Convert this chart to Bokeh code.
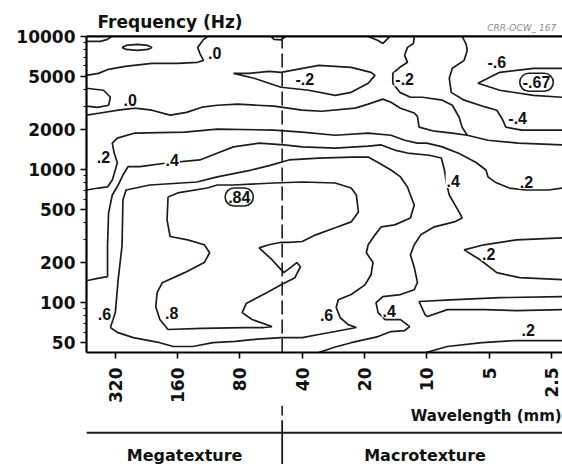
import math
from bokeh.plotting import figure
from bokeh.models import Range1d, FixedTicker, Span, ColumnDataSource
from bokeh.layouts import column
from bokeh.embed import file_html
from bokeh.resources import INLINE
from bokeh.core.properties import value

# ---------------- data (wavelength in mm, frequency in Hz) ----------------
wl_ticks = [320, 160, 80, 40, 20, 10, 5, 2.5]
wl_tick_labels = ["320", "160", "80", "40", "20", "10", "5", "2.5"]
freq_ticks = [50, 100, 200, 500, 1000, 2000, 5000, 10000]
freq_tick_labels = ["50", "100", "200", "500", "1000", "2000", "5000", "10000"]
freq_minor = [60, 70, 80, 90, 300, 400, 600, 700, 800, 900, 3000, 4000, 6000, 7000, 8000, 9000]
divider_mm = 50
freq_floor = 42.2
wl_left, wl_right = 441, 2.21

# contour lines, (wavelength mm, frequency Hz)
zero_corner = [(441, 9170), (378, 9170), (349, 9500), (338, 9830), (334, 10000)]
zero_islet = [(297, 8270), (284, 8560), (251, 8710), (223, 8560), (213, 8270), (223, 7990),
              (251, 7850), (284, 7990), (297, 8270)]
zero_upper = [(441, 5100), (386, 5280), (345, 5660), (287, 5960), (213, 6280), (160, 6280),
              (128, 6390), (120, 6610), (125, 7460), (128, 8270), (121, 9330), (116, 9830), (115, 10000)]
zero_edge_bump = [(441, 4080), (365, 3940), (338, 3490), (345, 3040), (390, 2930), (441, 2990)]
zero_lower = [(441, 2560), (378, 2660), (310, 2790), (257, 2890), (213, 2790), (174, 2560), (145, 2690),
              (122, 2940), (103, 3040), (82, 3100), (66, 3040), (54.8, 2990), (40, 2790), (32.2, 2740),
              (22.2, 2890), (19.2, 3100), (16.3, 3380), (14.9, 3200), (13.4, 2890), (11.5, 2660),
              (11.1, 2510), (10.9, 2080), (9.19, 1940), (7.53, 1880), (6.38, 1810)]
neg02_west = [(86, 5280), (72.2, 5280), (57.9, 5460), (50.6, 5370), (33.3, 6060), (23.2, 5860),
              (18.6, 5370), (17.8, 5100), (19.2, 4450), (23.2, 3800), (27.7, 3610), (37.2, 3940),
              (50.6, 4150), (57.9, 4450), (68.3, 4850), (86, 5280)]
neg02_east = [(11.5, 10000), (11.6, 8860), (12.4, 8270), (12.8, 7210), (12.4, 6390), (13.5, 5860),
              (14.6, 5280), (14.6, 4450), (13.5, 3800), (12.0, 3490), (10.5, 3490), (8.41, 3320),
              (7.53, 3040), (6.98, 2470), (6.75, 2080), (6.38, 1810), (5.06, 1660), (3.61, 1580), (2.21, 1530)]
neg04_east = [(6.75, 10000), (6.45, 8700), (6.38, 7850), (6.60, 6610), (7.53, 5760), (7.79, 4850),
              (7.62, 3800), (6.60, 3320), (5.18, 2940), (4.59, 2790), (4.34, 2430), (4.15, 2080),
              (3.48, 1980), (2.21, 1980)]
neg06_east = [(2.21, 5760), (3.05, 5760), (4.44, 5370), (5.66, 4450), (4.44, 3940), (3.05, 3610), (2.21, 3490)]
pos02_main = [(441, 702), (386, 726), (349, 740), (331, 834), (320, 991), (313, 1130), (324, 1330),
              (331, 1580), (313, 1720), (257, 1880), (148, 1910), (103, 2010), (54.8, 1980), (40, 1910),
              (27.7, 1810), (19.2, 1880), (14.9, 1810), (12.8, 1660), (11.1, 1580), (10.0, 1580),
              (8.41, 1480), (6.98, 1320), (5.78, 1130), (5.18, 991), (5.06, 880), (4.64, 798),
              (4.0, 726), (3.33, 702), (2.58, 702), (2.21, 726)]
pos02_wedge = [(2.21, 307), (3.68, 296), (5.29, 272), (6.60, 249), (5.53, 210), (4.59, 168),
               (3.56, 154), (2.21, 149)]
pos02_narrow = [(2.21, 111), (4.44, 109), (7.70, 105), (10.9, 102), (10.2, 81.3), (9.93, 78.6),
                (7.96, 88.6), (5.29, 88.6), (3.68, 87.2), (2.21, 88.6)]
pos02_bottom = [(10.1, 42.2), (7.96, 46.8), (5.41, 50), (3.76, 51.9), (2.21, 51.9)]
pos04_main = [(441, 146), (390, 152), (349, 157), (349, 267), (345, 471), (331, 644), (310, 765),
              (294, 909), (278, 1050), (243, 1050), (181, 1120), (125, 1180), (104, 1320), (86, 1480),
              (64.6, 1580), (49.1, 1530), (40, 1480), (27.7, 1450), (19.2, 1500), (16.6, 1530),
              (14.3, 1400), (12.4, 1330), (9.72, 1280), (8.51, 1220), (8.22, 991), (8.05, 798),
              (7.79, 644), (6.98, 479), (6.75, 433), (7.37, 404), (9.19, 371), (10.7, 323), (11.5, 272),
              (12.0, 229), (11.5, 184), (11.1, 142), (11.5, 125), (13.4, 115), (16.3, 111), (17.6, 100),
              (17.2, 84.2), (15.9, 74.6), (13.4, 74.6), (12.1, 66.1), (12.8, 61.7), (14.9, 60.6),
              (17.2, 55.6), (23.2, 50), (27.7, 46.4), (33.3, 42.2), (35.2, 40.2)]
pos06_loop = [(338, 65.0), (320, 84.2), (310, 149), (297, 267), (294, 591), (284, 702), (218, 765),
              (129, 806), (103, 880), (70.6, 991), (56.6, 1080), (46.4, 1180), (33.3, 1220), (23.2, 1240),
              (19.2, 1240), (17.2, 1130), (14.9, 991), (13.4, 880), (12.4, 740), (12.0, 644), (11.5, 542),
              (12.0, 433), (14.3, 384), (16.6, 371), (17.8, 323), (19.2, 272), (19.6, 237), (18.2, 200),
              (18.6, 162), (19.9, 136), (23.2, 115), (26.8, 105), (27.4, 91.8), (26.2, 77.0), (24.0, 68.4),
              (21.9, 65.0), (27.7, 60.7), (33.3, 57.6), (40, 54.6), (50.6, 54.6), (69.9, 52.8),
              (84.2, 51.1), (108, 50), (135, 46.8), (168, 46.8), (195, 50), (262, 54.6), (313, 59.8), (338, 65.0)]
pos08_loop = [(178, 622), (160, 667), (115, 726), (103, 765), (86, 765), (54.8, 792), (40, 806),
              (27.7, 792), (23.2, 726), (21.9, 644), (21.4, 479), (23.2, 404), (27.7, 365), (34.4, 323),
              (40, 288), (46.4, 284), (50.6, 284), (57.9, 272), (64.6, 258), (56.0, 210), (51.8, 184),
              (49.1, 168), (45.4, 184), (42.5, 200), (40.8, 186), (43.4, 154), (50.6, 136), (57.9, 121),
              (66.1, 109), (74.6, 98.3), (78.0, 84.2), (69.9, 74.6), (56.0, 66.1), (61.2, 65.0),
              (76.3, 65.0), (122, 64.0), (178, 62.8), (195, 74.6), (204, 93.3), (201, 119), (190, 141),
              (148, 168), (119, 200), (112, 237), (119, 272), (143, 296), (174, 314), (180, 418), (178, 622)]
top_notch_a = [(56.6, 10000), (54.8, 9500), (50.6, 9420), (48.0, 10000)]
top_notch_b = [(19.2, 10000), (17.2, 9330), (16.3, 8860), (15.4, 9660), (15.1, 10000)]

label_text = [".0", ".0", "-.2", "-.2", "-.6", "-.4", ".2", ".4", ".4", ".2", ".2", ".6", ".8", ".6", ".4", ".2"]
label_wl = [106, 271, 38.9, 12.8, 4.59, 3.64, 365, 170, 7.45, 3.30, 5.02, 361, 171, 30.5, 15.2, 3.24]
label_hz = [7460, 3320, 4760, 4760, 6390, 2430, 1240, 1180, 820, 806, 233, 82.7, 84.2, 81.3, 87.2, 62.8]

peak_text = [".84", "-.67"]
peak_wl = [80.6, 2.95]
peak_hz = [622, 4520]

contour_lines = [zero_corner, zero_islet, zero_upper, zero_edge_bump, zero_lower, neg02_west,
                 neg02_east, neg04_east, neg06_east, pos02_main, pos02_wedge, pos02_narrow,
                 pos02_bottom, pos04_main, pos06_loop, pos08_loop, top_notch_a, top_notch_b]

# ---------------- main figure ----------------
INK = "#1c1c1c"
AXIS_FONT = "DejaVu Sans"
LBL_FONT = "Liberation Sans"

p = figure(width=562, height=405, x_axis_type="log", y_axis_type="log",
           x_range=Range1d(wl_left, wl_right), y_range=Range1d(freq_floor, 16210),
           output_backend="svg", toolbar_location=None, title=None,
           min_border_left=86, min_border_right=0, min_border_top=8, min_border_bottom=52)
p.outline_line_color = None
p.grid.visible = False
p.background_fill_color = "white"
p.border_fill_color = "white"

xs = [[pt[0] for pt in ln] for ln in contour_lines]
ys = [[pt[1] for pt in ln] for ln in contour_lines]
p.multi_line(xs, ys, line_color=INK, line_width=1.7)

# Megatexture / Macrotexture boundary and the top frame line
p.segment(x0=[divider_mm], y0=[freq_floor], x1=[divider_mm], y1=[freq_ticks[-1]],
          line_dash="14 5", line_width=1.6, line_color=INK)
p.segment(x0=[wl_left], y0=[freq_ticks[-1]], x1=[wl_right], y1=[freq_ticks[-1]],
          line_width=2.2, line_color="black")

lbl_src = ColumnDataSource(dict(x=label_wl, y=label_hz, t=label_text))
p.text(x="x", y="y", text="t", source=lbl_src, text_font=value(LBL_FONT), text_font_size="16px",
       text_font_style="bold", text_align="center", text_baseline="middle", text_color="#111111",
       background_fill_color="white", padding=1)

peak_src = ColumnDataSource(dict(x=peak_wl, y=peak_hz, t=peak_text))
p.text(x="x", y="y", text="t", source=peak_src, text_font=value(LBL_FONT), text_font_size="16px",
       text_font_style="bold", text_align="center", text_baseline="middle", text_color="#111111",
       background_fill_color="white", border_line_color=INK, border_line_width=1.6,
       border_radius=10, padding=3)

# titles above the plot box
p.text(x=[390], y=[12730], text=["Frequency (Hz)"], text_font=value(AXIS_FONT), text_font_size="17px",
       text_font_style="bold", text_align="left", text_baseline="middle", text_color="#111111")
p.text(x=[3.48], y=[11480], text=["CRR-OCW_ 167"], text_font=value(AXIS_FONT), text_font_size="9px",
       text_font_style="italic", text_align="center", text_baseline="middle", text_color="#8a8a8a")

xa = p.xaxis[0]
xa.ticker = FixedTicker(ticks=wl_ticks, minor_ticks=[])
xa.major_label_overrides = {t: s for t, s in zip(wl_ticks, wl_tick_labels)}
xa.major_label_orientation = math.pi / 2
xa.major_label_text_font = AXIS_FONT
xa.major_label_text_font_style = "bold"
xa.major_label_text_font_size = "17px"
xa.major_label_text_color = "#111111"
xa.major_label_standoff = 9
xa.major_tick_out = 6
xa.major_tick_in = 0
xa.minor_tick_out = 0
xa.minor_tick_in = 0
xa.axis_line_width = 2.2
xa.major_tick_line_width = 1.6

ya = p.yaxis[0]
ya.bounds = (freq_floor, freq_ticks[-1])
ya.ticker = FixedTicker(ticks=freq_ticks, minor_ticks=freq_minor)
ya.major_label_overrides = {t: s for t, s in zip(freq_ticks, freq_tick_labels)}
ya.major_label_text_font = AXIS_FONT
ya.major_label_text_font_style = "bold"
ya.major_label_text_font_size = "17px"
ya.major_label_text_color = "#111111"
ya.major_label_standoff = 5
ya.major_tick_out = 6
ya.major_tick_in = 0
ya.minor_tick_out = 3
ya.minor_tick_in = 0
ya.axis_line_width = 2.2
ya.major_tick_line_width = 1.6
ya.minor_tick_line_width = 1.2

# ---------------- lower band (texture classes) ----------------
p2 = figure(width=562, height=59, x_axis_type="log", x_range=p.x_range, y_range=Range1d(0, 1),
            output_backend="svg", toolbar_location=None, title=None,
            x_axis_location=None, y_axis_location=None,
            min_border_left=86, min_border_right=0, min_border_top=0, min_border_bottom=0)
p2.outline_line_color = None
p2.grid.visible = False
p2.background_fill_color = "white"
p2.border_fill_color = "white"

p2.segment(x0=[divider_mm], y0=[1.0], x1=[divider_mm], y1=[0.75], line_dash="10 5",
           line_width=1.6, line_color=INK)
p2.segment(x0=[divider_mm], y0=[0.75], x1=[divider_mm], y1=[0.0], line_width=1.8, line_color=INK)
p2.add_layout(Span(location=0.54, dimension="width", line_width=2, line_color=INK))

p2.text(x=[2.23], y=[0.83], text=["Wavelength (mm)"], text_font=value(AXIS_FONT),
        text_font_size="15px", text_font_style="bold", text_align="right", text_baseline="middle",
        text_color="#111111")
p2.text(x=[148, 10.2], y=[0.155, 0.155], text=["Megatexture", "Macrotexture"], text_font=value(AXIS_FONT),
        text_font_size="16px", text_font_style="bold", text_align="center", text_baseline="middle",
        text_color="#111111")

layout = column(p, p2, spacing=0)
open("out.html", "w").write(file_html(layout, INLINE))
